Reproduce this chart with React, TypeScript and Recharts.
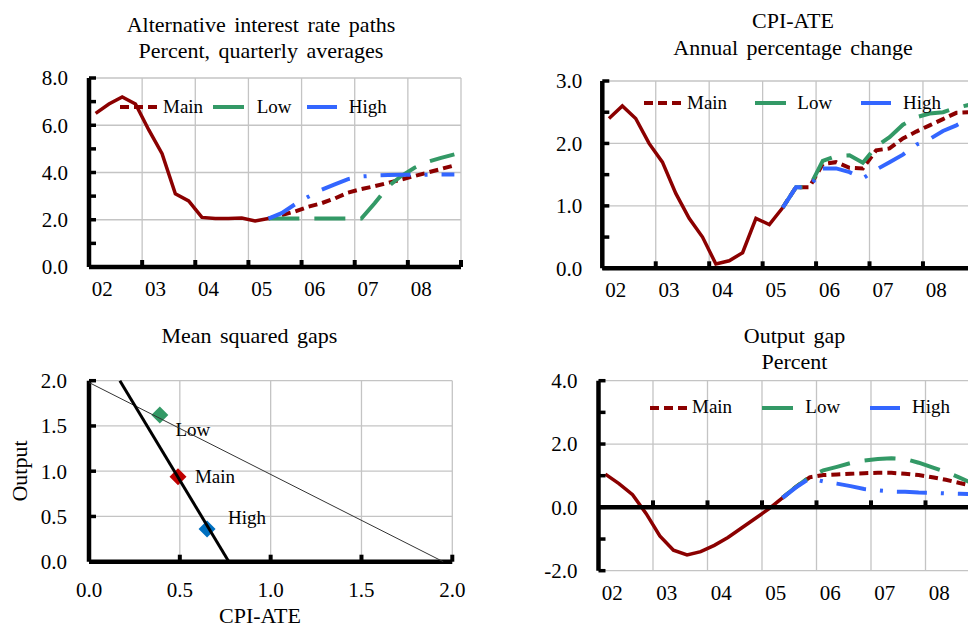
import React from 'react';
import {
  LineChart, Line, XAxis, YAxis, CartesianGrid, ReferenceLine, ReferenceDot,
  ScatterChart, Scatter, Cell,
} from 'recharts';

const FONT = '"Liberation Serif", "Times New Roman", serif';
const C_MAIN = '#8b0000';
const C_LOW = '#339966';
const C_HIGH = '#3366ff';
const GRID = '#c4c4c4';
const DASH_MAIN = '9 5';
const DASH_LOW = '31 15';
const DASH_HIGH = '30 14 3 14';

// ---------- categories ----------
const quarters = [
  '2002Q1', '2002Q2', '2002Q3', '2002Q4', '2003Q1', '2003Q2', '2003Q3', '2003Q4',
  '2004Q1', '2004Q2', '2004Q3', '2004Q4', '2005Q1', '2005Q2', '2005Q3', '2005Q4',
  '2006Q1', '2006Q2', '2006Q3', '2006Q4', '2007Q1', '2007Q2', '2007Q3', '2007Q4',
  '2008Q1', '2008Q2', '2008Q3', '2008Q4',
];
const yearLabels = ['02', '03', '04', '05', '06', '07', '08'];
const yearBoundTicks = [0, 4, 8, 12, 16, 20, 24, 28];
const yearLabelTicks = [1, 5, 9, 13, 17, 21, 25];
const projStart = 13; // index of quarter where projections begin

// ---------- panel 1: interest rate ----------
const rateHist = [6.5, 6.9, 7.2, 6.9, 5.8, 4.8, 3.1, 2.8, 2.1, 2.05, 2.05, 2.07, 1.95, 2.05];
const rateMain = [2.05, 2.2, 2.35, 2.55, 2.7, 2.9, 3.15, 3.3, 3.42, 3.56, 3.7, 3.85, 4.0, 4.15, 4.3];
const rateLow = [2.05, 2.05, 2.05, 2.05, 2.05, 2.05, 2.05, 2.05, 2.7, 3.4, 3.85, 4.2, 4.45, 4.62, 4.77];
const rateHigh = [2.05, 2.28, 2.65, 2.97, 3.27, 3.5, 3.72, 3.83, 3.87, 3.89, 3.9, 3.9, 3.91, 3.92, 3.92];

// ---------- panel 2: CPI-ATE ----------
const cpiHist = [2.4, 2.6, 2.4, 2.0, 1.7, 1.2, 0.8, 0.5, 0.07, 0.12, 0.25, 0.8, 0.7, 0.97];
const cpiMain = [0.97, 1.3, 1.3, 1.67, 1.7, 1.61, 1.6, 1.89, 1.92, 2.08, 2.19, 2.29, 2.39, 2.49, 2.5];
const cpiLow = [0.97, 1.3, 1.3, 1.72, 1.8, 1.81, 1.69, 1.95, 2.1, 2.3, 2.42, 2.48, 2.5, 2.57, 2.62];
const cpiHigh = [0.97, 1.3, 1.3, 1.6, 1.6, 1.54, 1.44, 1.58, 1.7, 1.82, 1.98, 2.07, 2.2, 2.29, 2.4];

// ---------- panel 4: output gap ----------
const gapHist = [1.05, 0.75, 0.4, -0.2, -0.9, -1.35, -1.5, -1.4, -1.2, -0.95, -0.65, -0.35, -0.05, 0.3];
const gapMain = [0.3, 0.65, 0.95, 1.02, 1.04, 1.06, 1.08, 1.09, 1.09, 1.06, 1.02, 0.95, 0.87, 0.77, 0.68];
const gapLow = [0.3, 0.65, 0.96, 1.17, 1.28, 1.4, 1.48, 1.53, 1.55, 1.53, 1.41, 1.26, 1.12, 0.94, 0.75];
const gapHigh = [0.3, 0.63, 0.92, 0.82, 0.75, 0.67, 0.58, 0.54, 0.5, 0.49, 0.47, 0.46, 0.44, 0.43, 0.42];

// ---------- panel 3: mean squared gaps ----------
const gapPoints = [
  { name: 'Low', cpi: 0.39, output: 1.62 },
  { name: 'Main', cpi: 0.49, output: 0.94 },
  { name: 'High', cpi: 0.65, output: 0.36 },
];
const frontierThick = [{ cpi: 0.17, output: 2.0 }, { cpi: 0.77, output: 0.0 }];
const frontierThin = [{ cpi: 0.0, output: 1.98 }, { cpi: 1.95, output: 0.0 }];
const scatterTicks = [0, 0.5, 1, 1.5, 2];

// styles for panel 3 (not data)
const pointColors: Record<string, string> = { Low: '#339966', Main: '#c00000', High: '#0070c0' };
const labelOffsets: Record<string, { dx: number; dy: number }> = {
  Low: { dx: 33, dy: 14 },
  Main: { dx: 37, dy: 0 },
  High: { dx: 40, dy: -12 },
};

function buildRows(hist: number[], main: number[], low: number[], high: number[]) {
  return quarters.map((q, i) => ({
    q,
    x: i + 0.5,
    hist: i < hist.length ? hist[i] : null,
    main: i >= projStart ? main[i - projStart] : null,
    low: i >= projStart ? low[i - projStart] : null,
    high: i >= projStart ? high[i - projStart] : null,
  }));
}

const rateRows = buildRows(rateHist, rateMain, rateLow, rateHigh);
const cpiRows = buildRows(cpiHist, cpiMain, cpiLow, cpiHigh);
const gapRows = buildRows(gapHist, gapMain, gapLow, gapHigh);

const TICK = { fill: '#000', fontSize: 21, fontFamily: FONT };

const XTickMark = (p: any) => (
  <line x1={p.cx} x2={p.cx} y1={p.cy} y2={p.cy - 7} stroke="#000" strokeWidth={4} />
);
const YTickMark = (p: any) => (
  <line x1={p.cx} x2={p.cx + 7} y1={p.cy} y2={p.cy} stroke="#000" strokeWidth={3.5} />
);

type LinePanelProps = {
  rows: any[];
  yDomain: [number, number];
  yTicks: number[];
  yMinor: number[];
  width: number;
  height: number;
  margin: { top: number; right: number; bottom: number; left: number };
  yAxisWidth: number;
  yTickMargin: number;
  xTickMargin: number;
};

function LinePanel(p: LinePanelProps) {
  return (
    <LineChart width={p.width} height={p.height} data={p.rows} margin={p.margin}>
      <CartesianGrid stroke={GRID} strokeWidth={1.3} />
      <XAxis xAxisId={0} dataKey="x" type="number" domain={[0, 28]} ticks={yearBoundTicks} height={0} hide />
      <XAxis
        xAxisId="lbl" dataKey="x" type="number" domain={[0, 28]} ticks={yearLabelTicks} interval={0}
        tickFormatter={(v: number) => yearLabels[Math.round((v - 1) / 4)]}
        axisLine={false} tickLine={false} tickSize={0} tickMargin={p.xTickMargin} height={30} tick={TICK}
      />
      <YAxis
        type="number" domain={p.yDomain} ticks={p.yTicks} interval={0}
        tickFormatter={(v: number) => v.toFixed(1)} width={p.yAxisWidth}
        axisLine={{ stroke: '#000', strokeWidth: 4.5 }} tickLine={false} tickSize={0}
        tickMargin={p.yTickMargin} tick={TICK}
      />
      <Line dataKey="main" name="Main" stroke={C_MAIN} strokeWidth={4} strokeDasharray={DASH_MAIN}
        dot={false} activeDot={false} isAnimationActive={false} />
      <Line dataKey="low" name="Low" stroke={C_LOW} strokeWidth={4} strokeDasharray={DASH_LOW}
        dot={false} activeDot={false} isAnimationActive={false} />
      <Line dataKey="high" name="High" stroke={C_HIGH} strokeWidth={4} strokeDasharray={DASH_HIGH}
        dot={false} activeDot={false} isAnimationActive={false} />
      <Line dataKey="hist" name="Outcome" stroke={C_MAIN} strokeWidth={3.5}
        dot={false} activeDot={false} isAnimationActive={false} />
      <ReferenceLine y={0} stroke="#000" strokeWidth={4.5} />
      {yearBoundTicks.slice(1).map((v) => (
        <ReferenceDot key={'xt' + v} x={v} y={0} r={0} ifOverflow="visible" shape={XTickMark} />
      ))}
      {[...p.yTicks, ...p.yMinor].map((v) => (
        <ReferenceDot key={'yt' + v} x={0} y={v} r={0} ifOverflow="visible" shape={YTickMark} />
      ))}
    </LineChart>
  );
}

const legendItems = [
  { label: 'Main', color: C_MAIN, dash: DASH_MAIN },
  { label: 'Low', color: C_LOW, dash: DASH_LOW },
  { label: 'High', color: C_HIGH, dash: DASH_HIGH },
];

function SeriesLegend({ cy, spots }: { cy: number; spots: { x0: number; x1: number; tx: number }[] }) {
  return (
    <>
      {legendItems.map((it, k) => {
        const w = spots[k].x1 - spots[k].x0;
        return (
          <React.Fragment key={it.label}>
            <svg style={{ position: 'absolute', left: spots[k].x0, top: cy - 4, overflow: 'visible' }} width={w} height={8}>
              <line x1={0} x2={w} y1={4} y2={4} stroke={it.color} strokeWidth={4} strokeDasharray={it.dash} />
            </svg>
            <div style={{ position: 'absolute', left: spots[k].tx, top: cy - 11.1, fontSize: 19, lineHeight: '22px', whiteSpace: 'nowrap' }}>
              {it.label}
            </div>
          </React.Fragment>
        );
      })}
    </>
  );
}

function Title({ cx, top, lines, lh }: { cx: number; top: number; lines: string[]; lh: number }) {
  return (
    <div style={{ position: 'absolute', left: cx - 250, width: 500, top, textAlign: 'center', fontSize: 22, lineHeight: lh + 'px', wordSpacing: '3px', whiteSpace: 'nowrap' }}>
      {lines.map((l) => <div key={l}>{l}</div>)}
    </div>
  );
}

const EmptyShape = () => <g />;

const DiamondShape = (props: any) => {
  const { cx, cy, payload } = props;
  const r = 8.5;
  const name = payload.name as string;
  const off = labelOffsets[name];
  return (
    <g>
      <path d={`M${cx},${cy - r}L${cx + r},${cy}L${cx},${cy + r}L${cx - r},${cy}Z`} fill={pointColors[name]} />
      <text x={cx + off.dx} y={cy + off.dy + 6.5} textAnchor="middle" fontSize={19} fontFamily={FONT} fill="#000">
        {name}
      </text>
    </g>
  );
};

function ScatterPanel() {
  return (
    <ScatterChart width={480} height={314} margin={{ top: 70.7, right: 27.7, bottom: 22.3, left: 0 }}>
      <CartesianGrid stroke={GRID} strokeWidth={1.3} />
      <XAxis type="number" dataKey="cpi" domain={[0, 2]} ticks={scatterTicks} interval={0}
        tickFormatter={(v: number) => v.toFixed(1)} height={40}
        axisLine={{ stroke: '#000', strokeWidth: 4.5 }} tickLine={false} tickSize={0} tickMargin={20} tick={TICK} />
      <YAxis type="number" dataKey="output" domain={[0, 2]} ticks={scatterTicks} interval={0}
        tickFormatter={(v: number) => v.toFixed(1)} width={89}
        axisLine={{ stroke: '#000', strokeWidth: 4.5 }} tickLine={false} tickSize={0} tickMargin={22} tick={TICK} />
      <Scatter data={gapPoints} shape={DiamondShape} isAnimationActive={false}>
        {gapPoints.map((d) => <Cell key={d.name} fill={pointColors[d.name]} />)}
      </Scatter>
      <Scatter data={frontierThin} shape={EmptyShape} line={{ stroke: '#333', strokeWidth: 1 }} isAnimationActive={false} />
      <Scatter data={frontierThick} shape={EmptyShape} line={{ stroke: '#000', strokeWidth: 3 }} isAnimationActive={false} />
      {scatterTicks.slice(1).map((v) => (
        <ReferenceDot key={'sx' + v} x={v} y={0} r={0} ifOverflow="visible" shape={XTickMark} />
      ))}
      {scatterTicks.slice(1).map((v) => (
        <ReferenceDot key={'sy' + v} x={0} y={v} r={0} ifOverflow="visible" shape={YTickMark} />
      ))}
    </ScatterChart>
  );
}

export default function App() {
  return (
    <div style={{ position: 'fixed', left: 0, top: 0, width: 968, height: 624, overflow: 'hidden', background: '#fff', fontFamily: FONT, color: '#000' }}>
      {/* Panel 1 */}
      <Title cx={261} top={11.6} lh={26.4} lines={['Alternative interest rate paths', 'Percent, quarterly averages']} />
      <div style={{ position: 'absolute', left: 0, top: 0 }}>
        <LinePanel rows={rateRows} yDomain={[0, 8]} yTicks={[0, 2, 4, 6, 8]} yMinor={[1, 3, 5, 7]}
          width={480} height={305} margin={{ top: 78, right: 19, bottom: 8, left: 0 }}
          yAxisWidth={89} yTickMargin={21} xTickMargin={14} />
      </div>
      <SeriesLegend cy={106.7} spots={[{ x0: 120, x1: 161.7, tx: 163 }, { x0: 213.3, x1: 246.7, tx: 256.7 }, { x0: 306.7, x1: 340, tx: 348.7 }]} />

      {/* Panel 2 */}
      <Title cx={793} top={7.95} lh={26.7} lines={['CPI-ATE', 'Annual percentage change']} />
      <div style={{ position: 'absolute', left: 484, top: 0 }}>
        <LinePanel rows={cpiRows} yDomain={[0, 3]} yTicks={[0, 1, 2, 3]} yMinor={[0.5, 1.5, 2.5]}
          width={502} height={305} margin={{ top: 81, right: 9.6, bottom: 6.7, left: 0 }}
          yAxisWidth={118.3} yTickMargin={20} xTickMargin={13.6} />
      </div>
      <SeriesLegend cy={102.7} spots={[{ x0: 644, x1: 684, tx: 687 }, { x0: 754.7, x1: 787.3, tx: 797.3 }, { x0: 860.7, x1: 893.3, tx: 903 }]} />

      {/* Panel 3 */}
      <Title cx={249.3} top={322.5} lh={26} lines={['Mean squared gaps']} />
      <div style={{ position: 'absolute', left: 0, top: 310 }}>
        <ScatterPanel />
      </div>
      <div style={{ position: 'absolute', left: 20, top: 470.8, transform: 'translate(-50%, -50%) rotate(-90deg)', fontSize: 22, lineHeight: '24px', whiteSpace: 'nowrap' }}>Output</div>
      <div style={{ position: 'absolute', left: 260, top: 615.5, transform: 'translate(-50%, -50%)', fontSize: 22, lineHeight: '24px', whiteSpace: 'nowrap' }}>CPI-ATE</div>

      {/* Panel 4 */}
      <Title cx={794.5} top={322.8} lh={26} lines={['Output gap', 'Percent']} />
      <div style={{ position: 'absolute', left: 484, top: 310 }}>
        <LinePanel rows={gapRows} yDomain={[-2, 4]} yTicks={[-2, 0, 2, 4]} yMinor={[-1, 1, 3]}
          width={510} height={314} margin={{ top: 70.7, right: 14, bottom: 23.3, left: 0 }}
          yAxisWidth={114.5} yTickMargin={21} xTickMargin={14} />
      </div>
      <SeriesLegend cy={407.5} spots={[{ x0: 649.7, x1: 689, tx: 692 }, { x0: 762.3, x1: 795.7, tx: 805.3 }, { x0: 869.7, x1: 902.3, tx: 912 }]} />
    </div>
  );
}
